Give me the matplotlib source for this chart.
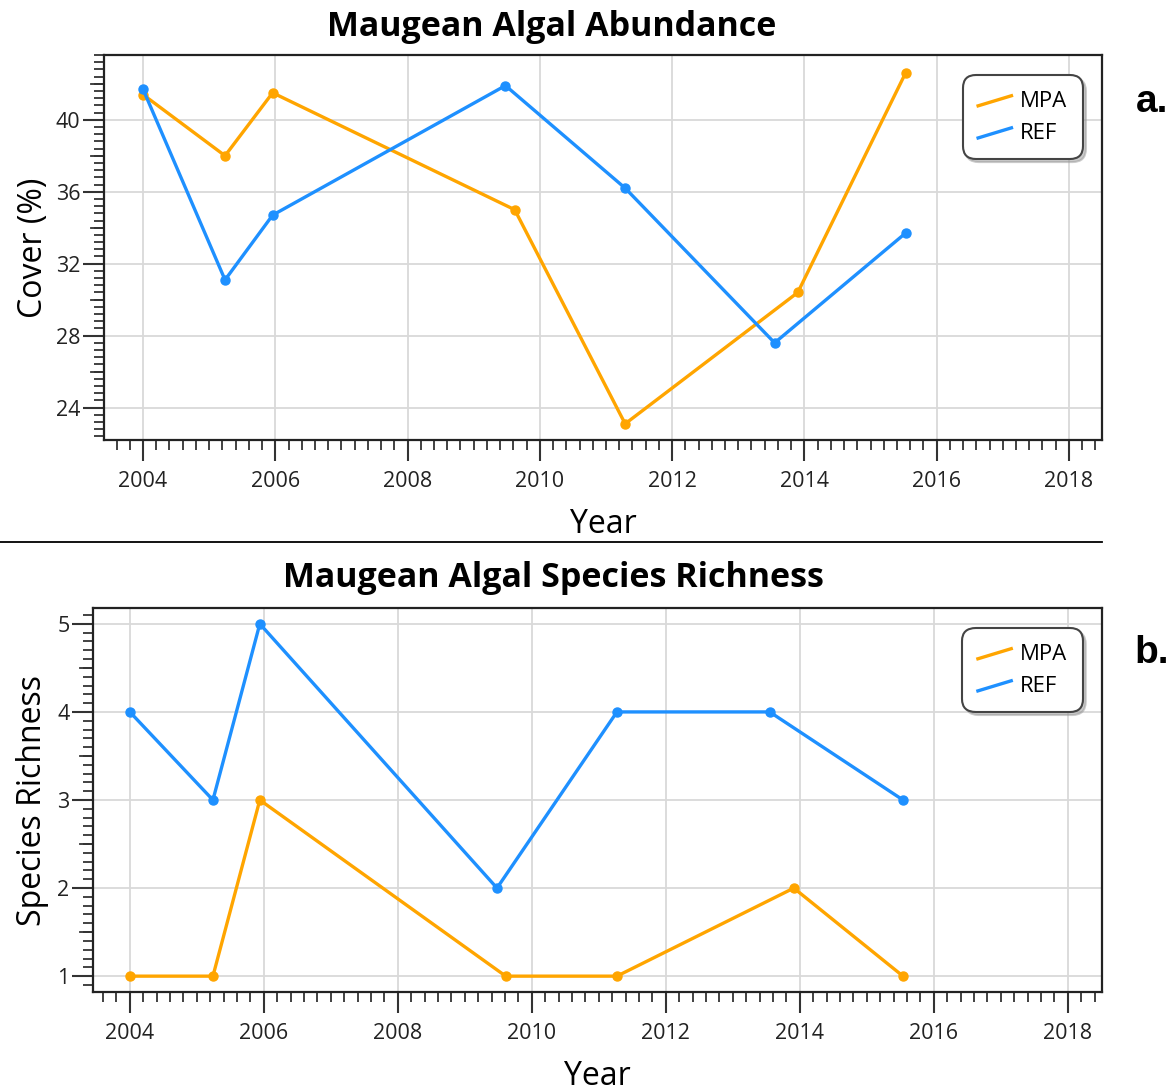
import numpy as np
import matplotlib
matplotlib.use("Agg")
from matplotlib import pyplot as plt
from matplotlib.lines import Line2D
from matplotlib.legend_handler import HandlerLine2D
from matplotlib.ticker import MultipleLocator

# abundance panel (cover %)
abund_years_mpa = [2004.0, 2005.24, 2005.96, 2009.62, 2011.29, 2013.90, 2015.53]
abund_mpa = [41.4, 38.0, 41.5, 35.0, 23.1, 30.4, 42.6]
abund_years_ref = [2004.0, 2005.24, 2005.96, 2009.48, 2011.29, 2013.55, 2015.53]
abund_ref = [41.7, 31.1, 34.7, 41.9, 36.2, 27.6, 33.7]

# species richness panel
rich_years_mpa = [2004.0, 2005.24, 2005.94, 2009.61, 2011.27, 2013.91, 2015.54]
rich_mpa = [1, 1, 3, 1, 1, 2, 1]
rich_years_ref = [2004.0, 2005.24, 2005.94, 2009.48, 2011.27, 2013.55, 2015.54]
rich_ref = [4, 3, 5, 2, 4, 4, 3]

series_names = ["MPA", "REF"]

MPA_COLOR = "#FFA500"
REF_COLOR = "#1E90FF"
FONT = "Open Sans"


class SlantedLine(HandlerLine2D):
    # legend swatch drawn as a short rising diagonal
    def create_artists(self, legend, orig_handle, xdescent, ydescent, width, height, fontsize, trans):
        line = Line2D([-xdescent, -xdescent + width], [-ydescent + height * 0.05, -ydescent + height * 0.7],
                      color=orig_handle.get_color(), lw=orig_handle.get_linewidth())
        line.set_transform(trans)
        return [line]


def style_axes(ax, xlim, ylim, ymajor, ymid, yminor):
    ax.set_xlim(*xlim)
    ax.set_ylim(*ylim)
    ax.xaxis.set_major_locator(MultipleLocator(2))
    ax.xaxis.set_minor_locator(MultipleLocator(0.2))
    ax.yaxis.set_major_locator(MultipleLocator(ymajor))
    ax.yaxis.set_minor_locator(MultipleLocator(yminor))
    ax.yaxis.set_major_formatter(plt.FormatStrFormatter("%d"))
    ax.grid(True, which="major", color="#d9d9d9", lw=1.3, zorder=0)
    ax.set_axisbelow(True)
    ax.tick_params(axis="both", which="major", direction="out", length=15, width=1.5,
                   labelsize=15.5, pad=2, color="#333333")
    ax.tick_params(axis="x", which="major", pad=7)
    ax.tick_params(axis="both", which="minor", direction="out", length=7, width=1.3, color="#333333")
    for lab in ax.get_xticklabels() + ax.get_yticklabels():
        lab.set_fontfamily(FONT)
        lab.set_color("#222222")
    for sp in ax.spines.values():
        sp.set_color("#222222")
        sp.set_linewidth(1.6)
    # slightly longer ticks at the half-way marks
    for v in np.arange(xlim[0] // 1, xlim[1] + 1, 2) + 1:
        if xlim[0] < v < xlim[1]:
            ax.plot([v, v], [0, -0.035], transform=ax.get_xaxis_transform(), color="#333333",
                    lw=1.3, clip_on=False)
    for v in np.arange(ylim[0] // ymid * ymid, ylim[1], ymid):
        if ylim[0] < v < ylim[1] and abs(v / ymajor - round(v / ymajor)) > 1e-6:
            ax.plot([0, -0.013], [v, v], transform=ax.get_yaxis_transform(), color="#333333",
                    lw=1.3, clip_on=False)


def draw_panel(ax, ym, vm, yr, vr):
    ax.plot(ym, vm, color=MPA_COLOR, lw=2.4, marker="o", ms=6.5, label=series_names[0], zorder=3)
    ax.plot(yr, vr, color=REF_COLOR, lw=2.4, marker="o", ms=6.5, label=series_names[1], zorder=4)
    leg = ax.legend(loc="upper right", bbox_to_anchor=(0.98, 0.945), frameon=True, fancybox=True,
                    shadow={"color": "#999999", "alpha": 0.5}, handler_map={Line2D: SlantedLine()},
                    handlelength=1.5, handletextpad=0.4, borderpad=0.45, labelspacing=0.5,
                    borderaxespad=0.2, prop={"family": FONT, "size": 16})
    leg.get_frame().set_edgecolor("#444444")
    leg.get_frame().set_linewidth(1.5)
    leg.get_frame().set_boxstyle("round,pad=0.25,rounding_size=0.6")


fig = plt.figure(figsize=(11.76, 10.91), dpi=100)

ax1 = fig.add_axes([104 / 1176, 1 - 440 / 1091, 998 / 1176, 385 / 1091])
draw_panel(ax1, abund_years_mpa, abund_mpa, abund_years_ref, abund_ref)
style_axes(ax1, (2003.41, 2018.5), (22.2, 43.6), 4, 2, 0.4)
ax1.set_xlabel("Year", fontsize=23, family=FONT, labelpad=12)
ax1.set_ylabel("Cover (%)", fontsize=23, family=FONT, labelpad=4)

ax2 = fig.add_axes([93 / 1176, 1 - 992 / 1091, 1009 / 1176, 384 / 1091])
draw_panel(ax2, rich_years_mpa, rich_mpa, rich_years_ref, rich_ref)
style_axes(ax2, (2003.45, 2018.51), (0.82, 5.18), 1, 0.5, 0.1)
ax2.set_xlabel("Year", fontsize=23, family=FONT, labelpad=12)
ax2.set_ylabel("Species Richness", fontsize=23, family=FONT, labelpad=6)

fig.text(552 / 1176, 1 - 27 / 1091, "Maugean Algal Abundance", ha="center", va="center",
         fontsize=24.5, fontweight="bold", family=FONT)
fig.text(553 / 1176, 1 - 578 / 1091, "Maugean Algal Species Richness", ha="center", va="center",
         fontsize=24.5, fontweight="bold", family=FONT)

fig.text(1152 / 1176, 1 - 102 / 1091, "a.", ha="center", va="center", fontsize=28,
         fontweight="bold", family="Liberation Sans")
fig.text(1152 / 1176, 1 - 653 / 1091, "b.", ha="center", va="center", fontsize=28,
         fontweight="bold", family="Liberation Sans")

# separator between the two panels
fig.add_artist(Line2D([0, 1102 / 1176], [1 - 542 / 1091, 1 - 542 / 1091], color="black", lw=1.3))

fig.savefig("out.png", dpi=100)
